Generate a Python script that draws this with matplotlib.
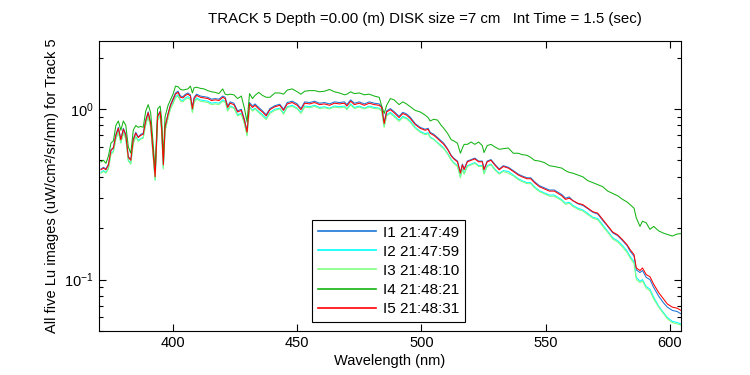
import matplotlib
matplotlib.use("Agg")
import matplotlib.pyplot as plt
from matplotlib.ticker import NullFormatter, LogLocator, FixedLocator

plt.rcParams['font.family'] = ['Liberation Sans', 'DejaVu Sans']

# wavelength grid (nm)
wl = [371, 372, 373, 374, 375, 376, 377, 378, 379, 380,
      381, 382, 383, 384, 385, 386, 387, 388, 389, 390,
      391, 392, 392.8, 393.8, 394.8, 395.4, 396.1, 396.8, 398, 399,
      400, 401, 402, 403, 404, 405, 406, 407, 407.8, 408.5,
      409.5, 411, 412.5, 414, 415.5, 417, 418.5, 420, 421, 422,
      423, 424.5, 426, 427.5, 428.8, 429.8, 430.8, 432, 433, 434.5,
      436, 437.5, 439, 441, 443, 444.5, 446, 448, 450, 451.5,
      453, 455, 457, 459, 461, 463, 465, 467, 469, 470,
      471.5, 473, 475, 477, 479, 481, 483, 484, 485, 486,
      487.5, 489, 491, 492.5, 494, 495.5, 497.5, 499.5, 501.5, 502.7,
      503.5, 505, 506.5, 508, 509, 510.5, 512, 513, 514.5, 515.7,
      516.5, 517.2, 518.5, 520, 521.5, 523, 524.5, 525.2, 526.5, 528,
      529.5, 531.3, 533, 535, 537, 539, 540.5, 542.5, 544, 545.5,
      547.5, 549.5, 551.5, 553.5, 555, 556.5, 558, 559.5, 561, 563,
      565, 567, 569, 571, 573, 575, 577, 579, 581, 582.8,
      584, 585.6, 586.5, 588, 589, 590.5, 592, 593.5, 595.5, 597.5,
      599, 601, 603, 604.5]

i1 = [.445, .455, .445, .475, .575, .595, .71, .78, .665, .77,
      .71, .525, .505, .665, .73, .685, .71, .72, .86, .96,
      .83, .555, .405, .91, .97, .79, .475, .79, .94, 1.06,
      1.15, 1.24, 1.27, 1.19, 1.18, 1.22, 1.24, 1.21, 1.02, 1.17,
      1.22, 1.19, 1.18, 1.17, 1.14, 1.15, 1.14, 1.19, 1.17, 1.04,
      1.10, 1.08, .975, .995, .865, .74, 1.09, 1.04, 1.07, 1.02,
      .975, .925, 1.005, 1.045, 1.065, .995, 1.09, 1.11, 1.07, 1.005,
      1.10, 1.09, 1.11, 1.08, 1.09, 1.07, 1.10, 1.09, 1.10, 1.06,
      1.13, 1.08, 1.10, 1.07, 1.10, 1.08, 1.07, 1.035, .835, .975,
      1.005, .965, .905, .955, .935, .895, .82, .78, .76, .77,
      .73, .71, .68, .65, .63, .585, .535, .515, .495, .425,
      .475, .445, .495, .505, .515, .495, .495, .445, .495, .505,
      .475, .445, .465, .455, .435, .415, .405, .395, .395, .375,
      .355, .345, .335, .335, .325, .315, .30, .305, .29, .278,
      .272, .26, .248, .242, .222, .205, .188, .181, .169, .158,
      .147, .137, .114, .11, .113, .103, .1, .09, .08, .073,
      .069, .066, .065, .063]

i2 = [.425, .435, .425, .45, .55, .565, .67, .74, .635, .73,
      .67, .50, .48, .635, .69, .655, .67, .68, .815, .91,
      .79, .53, .385, .865, .92, .75, .45, .75, .895, 1.01,
      1.09, 1.18, 1.21, 1.13, 1.12, 1.16, 1.18, 1.15, .965, 1.11,
      1.16, 1.13, 1.12, 1.11, 1.08, 1.09, 1.08, 1.13, 1.11, .985,
      1.04, 1.02, .925, .945, .82, .705, 1.03, .985, 1.01, .965,
      .925, .88, .955, .995, 1.01, .945, 1.03, 1.05, 1.01, .955,
      1.04, 1.03, 1.05, 1.02, 1.03, 1.01, 1.04, 1.03, 1.04, 1.00,
      1.07, 1.02, 1.04, 1.01, 1.04, 1.02, 1.01, .985, .79, .925,
      .955, .915, .86, .905, .885, .85, .78, .74, .715, .725,
      .685, .665, .635, .61, .59, .55, .505, .485, .465, .40,
      .445, .42, .465, .475, .485, .465, .465, .42, .465, .475,
      .445, .42, .435, .43, .41, .39, .38, .37, .37, .35,
      .332, .322, .313, .313, .303, .294, .28, .284, .272, .262,
      .256, .244, .232, .228, .209, .192, .176, .169, .158, .147,
      .137, .127, .103, .098, .100, .091, .088, .079, .070, .064,
      .060, .057, .056, .055]

i3 = [.42, .43, .42, .445, .54, .56, .665, .73, .63, .72,
      .665, .495, .475, .625, .685, .645, .665, .675, .805, .90,
      .78, .52, .38, .855, .91, .74, .445, .74, .885, 1.0,
      1.07, 1.16, 1.19, 1.11, 1.10, 1.14, 1.16, 1.13, .95, 1.09,
      1.14, 1.11, 1.10, 1.09, 1.06, 1.07, 1.06, 1.11, 1.09, .97,
      1.03, 1.01, .91, .93, .81, .695, 1.02, .97, 1.0, .95,
      .91, .865, .94, .98, 1.0, .93, 1.02, 1.035, 1.0, .94,
      1.025, 1.015, 1.035, 1.005, 1.015, 1.0, 1.025, 1.015, 1.025, .99,
      1.055, 1.005, 1.025, 1.0, 1.025, 1.005, 1.0, .97, .78, .91,
      .94, .90, .845, .89, .875, .835, .77, .73, .705, .715,
      .68, .66, .63, .60, .585, .545, .50, .48, .46, .395,
      .44, .415, .46, .47, .48, .46, .46, .415, .46, .47,
      .44, .415, .43, .42, .405, .385, .375, .365, .365, .345,
      .328, .318, .308, .308, .299, .29, .276, .28, .268, .258,
      .252, .24, .229, .224, .205, .189, .173, .166, .155, .144,
      .134, .124, .100, .096, .098, .089, .086, .077, .069, .063,
      .059, .056, .055, .054]

i4 = [.49, .50, .48, .53, .63, .65, .80, .85, .75, .85,
      .80, .60, .55, .75, .80, .78, .79, .78, .97, 1.06,
      .95, .62, .44, 1.00, 1.04, .88, .52, .90, 1.05, 1.13,
      1.22, 1.36, 1.35, 1.30, 1.29, 1.30, 1.31, 1.36, 1.24, 1.33,
      1.34, 1.32, 1.31, 1.28, 1.26, 1.25, 1.23, 1.31, 1.22, 1.21,
      1.22, 1.21, 1.15, 1.19, 1.00, .84, 1.23, 1.15, 1.20, 1.25,
      1.20, 1.17, 1.17, 1.24, 1.24, 1.22, 1.29, 1.31, 1.26, 1.22,
      1.27, 1.28, 1.28, 1.26, 1.27, 1.30, 1.26, 1.24, 1.21, 1.22,
      1.26, 1.23, 1.24, 1.21, 1.22, 1.19, 1.17, 1.04, .94, 1.05,
      1.15, 1.13, 1.06, 1.10, 1.07, 1.03, .98, .96, .92, .89,
      .85, .87, .86, .80, .77, .72, .66, .65, .63, .55,
      .59, .62, .62, .64, .62, .64, .61, .555, .61, .62,
      .60, .58, .585, .59, .55, .55, .54, .535, .52, .50,
      .495, .485, .465, .46, .455, .45, .435, .425, .42, .41,
      .40, .38, .37, .36, .35, .33, .32, .31, .295, .285,
      .275, .262, .23, .205, .22, .215, .197, .205, .193, .187,
      .184, .18, .185, .186]

i5 = [.44, .45, .44, .47, .57, .59, .70, .77, .66, .76,
      .70, .52, .50, .66, .72, .68, .70, .71, .85, .95,
      .82, .55, .40, .90, .96, .78, .47, .78, .93, 1.05,
      1.13, 1.22, 1.25, 1.17, 1.16, 1.20, 1.22, 1.19, 1.00, 1.15,
      1.20, 1.17, 1.16, 1.15, 1.12, 1.13, 1.12, 1.17, 1.15, 1.02,
      1.08, 1.06, .96, .98, .85, .73, 1.07, 1.02, 1.05, 1.00,
      .96, .91, .99, 1.03, 1.05, .98, 1.07, 1.09, 1.05, .99,
      1.08, 1.07, 1.09, 1.06, 1.07, 1.05, 1.08, 1.07, 1.08, 1.04,
      1.11, 1.06, 1.08, 1.05, 1.08, 1.06, 1.05, 1.02, .82, .96,
      .99, .95, .89, .94, .92, .88, .81, .77, .75, .76,
      .72, .70, .67, .64, .62, .58, .53, .51, .49, .42,
      .47, .44, .49, .50, .51, .49, .49, .44, .49, .50,
      .47, .44, .46, .45, .43, .41, .40, .39, .39, .37,
      .35, .34, .33, .33, .32, .31, .295, .30, .29, .28,
      .275, .262, .25, .245, .225, .207, .19, .183, .171, .16,
      .15, .14, .117, .113, .117, .107, .104, .094, .084, .077,
      .072, .069, .068, .066]

labels = ["I1 21:47:49", "I2 21:47:59", "I3 21:48:10", "I4 21:48:21", "I5 21:48:31"]
colors = ["#1a75d8", "#00ffff", "#80ff80", "#14b414", "#ff0000"]

fig = plt.figure(figsize=(7.5, 3.75), dpi=100)
ax = fig.add_axes([98.5 / 750, 1 - 331 / 375, 582.5 / 750, 290 / 375])

for ys, lab, col in zip([i1, i2, i3, i4, i5], labels, colors):
    ax.plot(wl, ys, color=col, lw=0.75, label=lab)

ax.set_yscale("log")
ax.set_xlim(370, 604.5)
ax.set_ylim(0.05, 2.5)
ax.xaxis.set_major_locator(FixedLocator([400, 450, 500, 550, 600]))
ax.yaxis.set_major_locator(LogLocator(base=10))
ax.yaxis.set_minor_locator(LogLocator(base=10, subs=range(2, 10)))
ax.yaxis.set_minor_formatter(NullFormatter())
ax.tick_params(which="both", direction="in", top=True, right=True, labelsize=10.5, width=0.8)
ax.tick_params(which="major", length=5)
ax.tick_params(which="minor", length=3)
for s in ax.spines.values():
    s.set_linewidth(0.8)

ax.set_xlabel("Wavelength (nm)", fontsize=10.5, labelpad=3)
ax.set_ylabel("All five Lu images (uW/cm\u00b2/sr/nm) for Track 5", fontsize=10.5, labelpad=4)
fig.text(0.566, 1 - 19 / 375, "TRACK 5 Depth =0.00 (m) DISK size =7 cm   Int Time = 1.5 (sec)",
         ha="center", va="center", fontsize=10.8)

leg = ax.legend(loc="lower left", bbox_to_anchor=(0.3665, 0.031), borderaxespad=0,
                fontsize=11, handlelength=3.8, handletextpad=0.45, labelspacing=0.33,
                fancybox=False, framealpha=1, edgecolor="black", borderpad=0.4)
leg.get_frame().set_linewidth(0.8)
for ln in leg.get_lines():
    ln.set_linewidth(1.2)

fig.savefig("out.png", dpi=100)
